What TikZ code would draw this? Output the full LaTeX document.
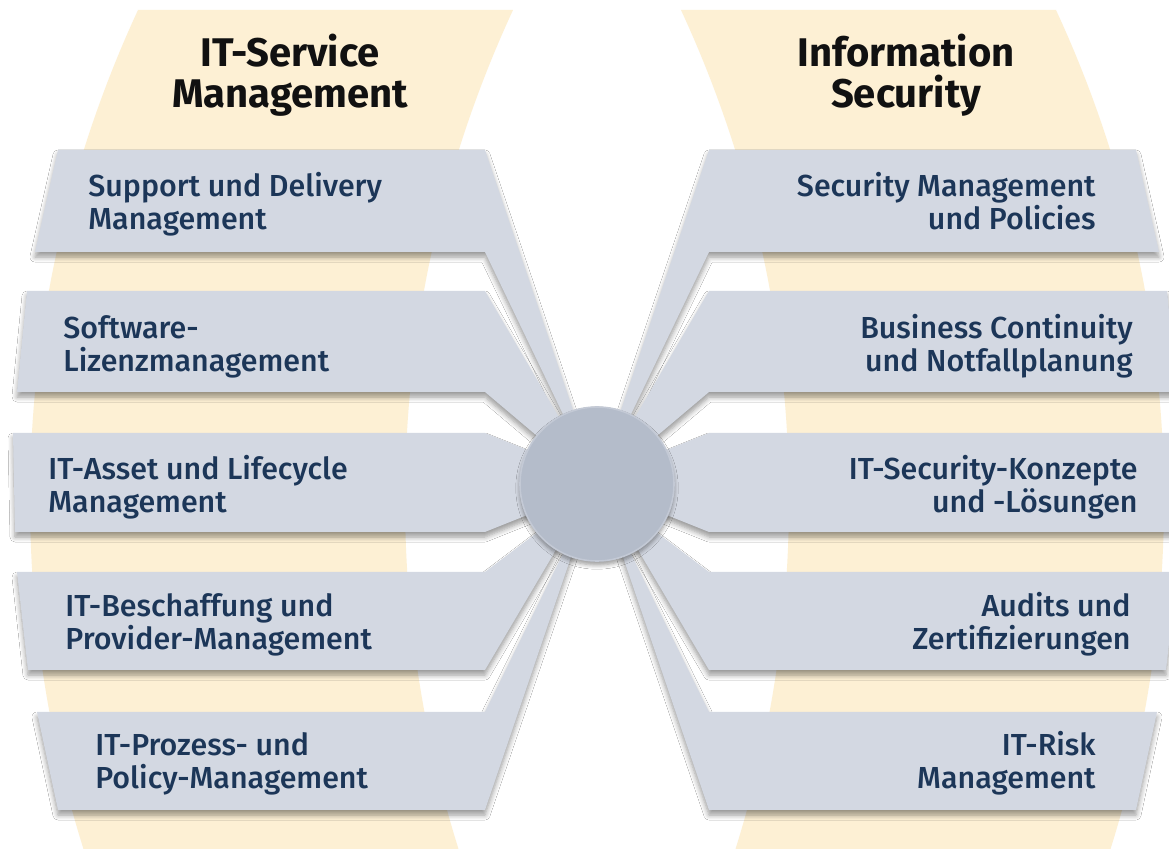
\documentclass[tikz,border=0pt]{standalone}
\usepackage{fontspec}
\setmainfont{Fira Sans}
\newfontfamily\bandfont{Fira Sans Medium}
\usetikzlibrary{calc,shadows.blur}
\definecolor{beige}{HTML}{FDF0D4}
\definecolor{bandc}{HTML}{D3D8E2}
\definecolor{hubc}{HTML}{B4BCCA}
\definecolor{navy}{HTML}{1C3658}
\definecolor{titlec}{HTML}{111111}
\newcommand\beigestrip{%
  \fill[beige] plot[domain=10:849,samples=60] ({1195.6-100*sqrt(11.656^2-((\x-500)/100)^2)},\x)
    -- plot[domain=849:10,samples=60] ({1570.6-100*sqrt(11.656^2-((\x-500)/100)^2)},\x) -- cycle;}
\newcommand\bandset{%
  \fill[bandshape] (58,150) -- (485,150) -- (589.4,458.4) -- (597,484) -- (575,439.2) -- (485,252) -- (35,252) -- cycle;
  \fill[bandshape] (27,291) -- (485,291) -- (566.6,430.2) -- (597,484) -- (552.5,449) -- (485,392) -- (17,392) -- cycle;
  \fill[bandshape] (13,433) -- (485,433) -- (555,461) -- (597,484) -- (555,504) -- (485,532) -- (15,532) -- cycle;
  \fill[bandshape] (17,572) -- (485,572) -- (552.5,521) -- (597,484) -- (563,538) -- (485,670) -- (28,670) -- cycle;
  \fill[bandshape] (37,712) -- (485,712) -- (575,529.6) -- (597,484) -- (587,510) -- (485,810) -- (58,810) -- cycle;}
\begin{document}
\begin{tikzpicture}[x=0.5pt,y=-0.5pt,
  bandshape/.style={fill=bandc, blur shadow={shadow xshift=0pt, shadow yshift=-2.5pt, shadow blur steps=6, shadow blur radius=2.5pt}},
  bandtext/.style={text=navy, font=\bandfont\fontsize{15.2}{16.5}\selectfont, inner sep=0pt},
  titletext/.style={text=titlec, font=\bfseries\fontsize{20}{20.5}\selectfont, align=center, inner sep=0pt, anchor=base}]
\fill[white] (0,0) rectangle (1169,849);
\useasboundingbox (0,0) rectangle (1169,849);
% cream background strips
\beigestrip
\begin{scope}[shift={(1194,0)}, xscale=-1]
  \beigestrip
\end{scope}
% grey bands
\bandset
\begin{scope}[shift={(1194,0)}, xscale=-1]
  \bandset
\end{scope}
% hub
\fill[hubc, draw=hubc!80!white, line width=0.8pt, blur shadow={shadow xshift=0pt, shadow yshift=-2pt, shadow blur steps=6}] (597,484) circle [radius=38.5pt];
% titles (anchor = baseline of last line)
\node[titletext] (tl) at (290,108) {IT-Service\\Management};
\node[titletext] (tr) at (906,108) {Information\\Security};
% left texts
\node[bandtext, align=left, anchor=base west] (l1) at (88,230) {Support und Delivery\\Management};
\node[bandtext, align=left, anchor=base west] (l2) at (63,372) {Software-\\Lizenzmanagement};
\node[bandtext, align=left, anchor=base west] (l3) at (48,513) {IT-Asset und Lifecycle\\Management};
\node[bandtext, align=left, anchor=base west] (l4) at (65,650) {IT-Beschaffung und\\Provider-Management};
\node[bandtext, align=left, anchor=base west] (l5) at (95,789) {IT-Prozess- und\\Policy-Management};
% right texts
\node[bandtext, align=right, anchor=base east] (r1) at (1096,230) {Security Management\\und Policies};
\node[bandtext, align=right, anchor=base east] (r2) at (1133,372) {Business Continuity\\und Notfallplanung};
\node[bandtext, align=right, anchor=base east] (r3) at (1138,513) {IT-Security-Konzepte\\und -Lösungen};
\node[bandtext, align=right, anchor=base east] (r4) at (1131,650) {Audits und\\Zertifizierungen};
\node[bandtext, align=right, anchor=base east] (r5) at (1096,789) {IT-Risk\\Management};
\end{tikzpicture}
\end{document}
